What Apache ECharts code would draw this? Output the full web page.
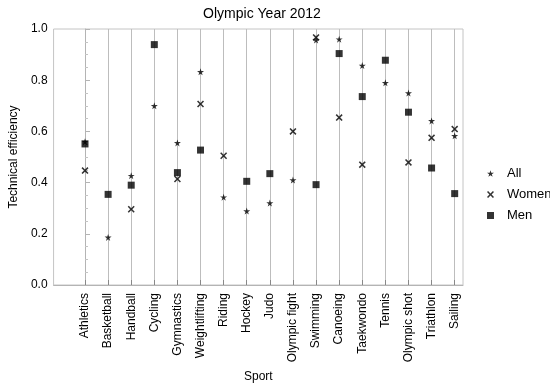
<!DOCTYPE html>
<html><head><meta charset="utf-8">
<script src="https://cdn.jsdelivr.net/npm/echarts@6/dist/echarts.min.js"></script>
<style>html,body{margin:0;padding:0;background:#fff}#c{width:550px;height:389px}</style>
</head><body><div id="c"></div>
<script>
const sports = ['Athletics','Basketball','Handball','Cycling','Gymnastics','Weightlifting','Riding','Hockey','Judo','Olympic fight','Swimming','Canoeing','Taekwondo','Tennis','Olympic shot','Triathlon','Sailing'];
const allVals   = [0.56, 0.186, 0.427, 0.70, 0.555, 0.833, 0.343, 0.289, 0.32, 0.41, 0.957, 0.96, 0.857, 0.79, 0.75, 0.641, 0.583];
const womenVals = [0.447, null, 0.296, null, 0.414, 0.707, 0.505, null, null, 0.60, 0.967, 0.654, 0.47, null, 0.479, 0.575, 0.609];
const menVals   = [0.551, 0.354, 0.39, 0.939, 0.439, 0.527, null, 0.405, 0.435, null, 0.392, 0.904, 0.736, 0.878, 0.675, 0.457, 0.357];
const yTicks = [0, 0.2, 0.4, 0.6, 0.8, 1.0];

const FONT = 'Liberation Sans, Arial, sans-serif';
const starPath = 'path://M50,0 L61,35 L98,35 L68,57 L79,91 L50,70 L21,91 L32,57 L2,35 L39,35 Z';
const crossPath = 'path://M0,14 L14,0 L45,31 L76,0 L90,14 L59,45 L90,76 L76,90 L45,59 L14,90 L0,76 L31,45 Z';
const idx = sports.map((s, i) => i);
const toPts = arr => arr.map((v, i) => v == null ? null : [i, v]).filter(p => p);

const chart = echarts.init(document.getElementById('c'), null, {renderer: 'canvas'});
chart.setOption({
  animation: false,
  textStyle: {fontFamily: FONT},
  title: {text: 'Olympic Year 2012', left: 257, textAlign: 'center', top: 2,
    textStyle: {fontFamily: FONT, fontSize: 14, fontWeight: 'normal', color: '#000'}},
  grid: {left: 50, right: 87, top: 29, bottom: 104, show: true, borderColor: '#c4c4c4', borderWidth: 1},
  legend: {orient: 'vertical', left: 482, top: 162, itemWidth: 7, itemHeight: 7, itemGap: 8,
    textStyle: {fontFamily: FONT, fontSize: 13, color: '#000', padding: [0, 0, 0, 8]},
    data: ['All', 'Women', 'Men']},
  xAxis: {
    type: 'value', min: -1.36, max: 16.36,
    name: 'Sport', nameLocation: 'middle', nameGap: 86,
    nameTextStyle: {fontFamily: FONT, fontSize: 12, color: '#000'},
    axisLine: {show: true, lineStyle: {color: '#b4b4b4'}},
    axisTick: {show: true, inside: true, length: 5, customValues: idx, lineStyle: {color: '#888'}},
    axisLabel: {customValues: idx, rotate: 90, margin: 8, fontFamily: FONT, fontSize: 12, color: '#000',
      formatter: v => sports[Math.round(v)] || ''},
    splitLine: {show: true, lineStyle: {color: '#bdbdbd', width: 1}}
  },
  yAxis: {
    type: 'value', min: 0, max: 1, interval: 0.2,
    name: 'Technical efficiency', nameLocation: 'middle', nameGap: 26,
    nameTextStyle: {fontFamily: FONT, fontSize: 12, color: '#000'},
    axisLine: {show: true, lineStyle: {color: '#b4b4b4'}},
    axisTick: {show: true, inside: true, length: 5, lineStyle: {color: '#b4b4b4'}},
    minorTick: {show: true, splitNumber: 4, length: 3, lineStyle: {color: '#c4c4c4'}},
    axisLabel: {fontFamily: FONT, fontSize: 12, color: '#000', margin: 6, formatter: v => v.toFixed(1)},
    splitLine: {show: false}
  },
  series: [
    {name: 'All', type: 'scatter', symbol: starPath, symbolSize: 7, itemStyle: {color: '#000'}, data: toPts(allVals), z: 3},
    {name: 'Women', type: 'scatter', symbol: crossPath, symbolSize: 7, itemStyle: {color: '#000'}, data: toPts(womenVals), z: 4},
    {name: 'Men', type: 'scatter', symbol: 'rect', symbolSize: 7, itemStyle: {color: '#000'}, data: toPts(menVals), z: 5}
  ]
});
</script></body></html>
